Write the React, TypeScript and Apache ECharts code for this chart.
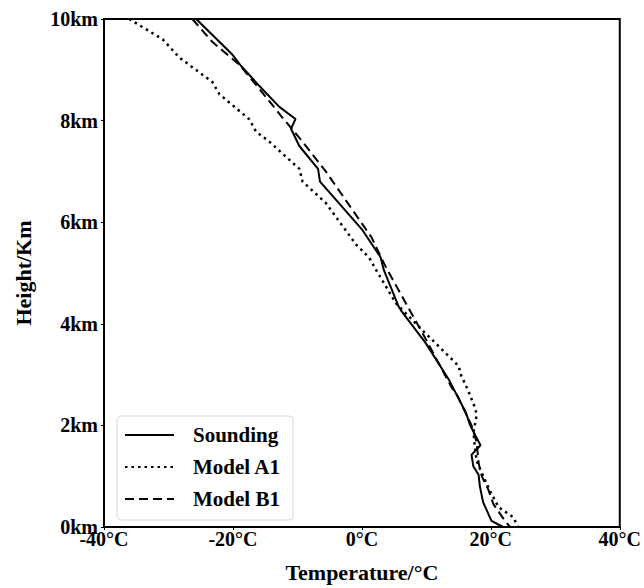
import React, { useEffect, useRef } from "react";
import * as echarts from "echarts";

const seriesNames = ["Sounding", "Model A1", "Model B1"];

// [temperature °C, height km]
const sounding: number[][] = [
  [-25.7, 10], [-20.1, 9.3], [-18.7, 9.07], [-15.9, 8.68], [-12.8, 8.27], [-10.3, 8.03],
  [-11, 7.84], [-9.7, 7.5], [-6.8, 7.05], [-6.5, 6.8], [-3.6, 6.38], [0, 5.86],
  [2.9, 5.31], [3.4, 5.06], [5.7, 4.34], [6.2, 4.24], [9.9, 3.62], [13.4, 2.92],
  [16.1, 2.26], [16.8, 2.0], [17.6, 1.8], [18.4, 1.61], [17.0, 1.42], [17.3, 1.19],
  [18.1, 1.03], [18.3, 0.8], [18.8, 0.49], [20.1, 0.12], [21.9, 0],
];

const modelA1: number[][] = [
  [-36.1, 10], [-30.9, 9.6], [-28.3, 9.24], [-23.2, 8.76], [-22.1, 8.52], [-17.5, 8.03],
  [-16.4, 7.78], [-14.4, 7.59], [-9.7, 7.05], [-9.2, 6.8], [-5.6, 6.38], [-0.9, 5.56],
  [1.1, 5.31], [2.2, 5.06], [5.3, 4.4], [9.9, 3.81], [15, 3.17], [15.4, 2.98],
  [16.5, 2.68], [17.6, 2.33], [17.8, 2.2], [17.3, 1.87], [17.5, 1.6], [17.8, 1.3],
  [18.5, 1.09], [19.9, 0.7], [21.2, 0.39], [23.5, 0.19], [24.2, 0],
];

const modelB1: number[][] = [
  [-26.3, 10], [-23.2, 9.55], [-19, 9.1], [-14.4, 8.39], [-12.4, 8.07], [-9.3, 7.6],
  [-5.6, 7.0], [1.5, 5.7], [3.7, 5.12], [9.9, 3.7], [13.9, 2.75], [14.8, 2.59],
  [17.0, 2.0], [17.8, 1.67], [18.1, 1.26], [18.6, 1.0], [19.6, 0.74], [20.4, 0.45],
  [22.2, 0.12], [23, 0],
];

const xTicks = { min: -40, max: 40, interval: 20 };
const yTicks = { min: 0, max: 10, interval: 2 };

const FONT = "'Liberation Serif', 'Times New Roman', serif";

export default function App() {
  const ref = useRef<HTMLDivElement>(null);
  useEffect(() => {
    if (!ref.current) return;
    const chart = echarts.init(ref.current, undefined, { renderer: "svg" });
    const axisCommon = {
      axisLine: { show: true, onZero: false, lineStyle: { color: "#000", width: 2 } },
      axisTick: { show: true, inside: false, length: 3, lineStyle: { color: "#000", width: 1 } },
      splitLine: { show: false },
    };
    chart.setOption({
      animation: false,
      backgroundColor: "#fff",
      grid: {
        left: 104,
        right: 22,
        top: 19,
        bottom: 55,
        show: true,
        borderColor: "#000",
        borderWidth: 2,
        backgroundColor: "transparent",
      },
      xAxis: {
        type: "value",
        ...xTicks,
        ...axisCommon,
        name: "Temperature/°C",
        nameLocation: "middle",
        nameGap: 34,
        nameTextStyle: { fontFamily: FONT, fontWeight: "bold", fontSize: 22, color: "#000" },
        axisLabel: {
          formatter: (v: number) => `${v}°C`,
          fontFamily: FONT,
          fontWeight: "bold",
          fontSize: 20,
          color: "#000",
          margin: 2,
        },
      },
      yAxis: {
        type: "value",
        ...yTicks,
        ...axisCommon,
        name: "Height/Km",
        nameLocation: "middle",
        nameGap: 70,
        nameTextStyle: { fontFamily: FONT, fontWeight: "bold", fontSize: 22, color: "#000" },
        axisLabel: {
          formatter: (v: number) => `${v}km`,
          fontFamily: FONT,
          fontWeight: "bold",
          fontSize: 20,
          color: "#000",
          margin: 6,
        },
      },
      legend: {
        orient: "vertical",
        left: 117,
        top: 416,
        padding: [8, 12, 10, 7],
        itemWidth: 49,
        itemHeight: 14,
        itemGap: 10,
        backgroundColor: "rgba(255,255,255,0.9)",
        borderColor: "#d8d8d8",
        borderWidth: 1,
        borderRadius: 4,
        data: seriesNames,
        itemStyle: { opacity: 0, borderWidth: 0 },
        textStyle: {
          fontFamily: FONT,
          fontWeight: "bold",
          fontSize: 21,
          lineHeight: 22,
          color: "#000",
          padding: [0, 0, 0, 14],
        },
      },
      series: [
        {
          name: seriesNames[0],
          type: "line",
          data: sounding,
          symbol: "none",
          showSymbol: false,
          lineStyle: { color: "#000", width: 2, type: "solid" },
          itemStyle: { color: "#000" },
        },
        {
          name: seriesNames[1],
          type: "line",
          data: modelA1,
          symbol: "none",
          showSymbol: false,
          lineStyle: { color: "#000", width: 2.5, type: [2.5, 4] },
          itemStyle: { color: "#000" },
        },
        {
          name: seriesNames[2],
          type: "line",
          data: modelB1,
          symbol: "none",
          showSymbol: false,
          lineStyle: { color: "#000", width: 2, type: [9, 5] },
          itemStyle: { color: "#000" },
        },
      ],
    });
    return () => chart.dispose();
  }, []);
  return <div ref={ref} style={{ width: 644, height: 588, position: "absolute", left: 0, top: 0 }} />;
}
